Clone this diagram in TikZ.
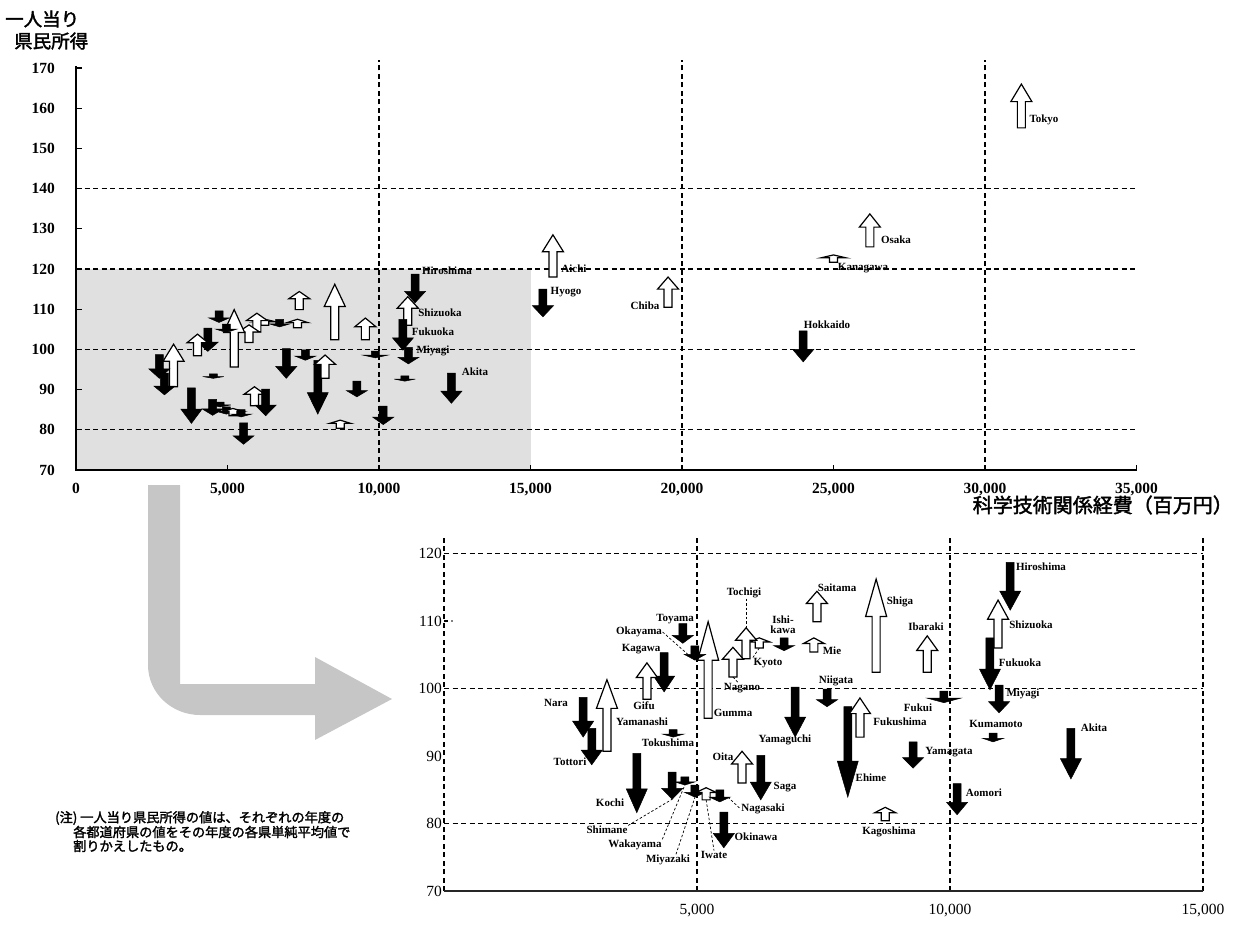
\documentclass[tikz,border=0pt]{standalone}
\usepackage{fontspec}
\setmainfont{Liberation Serif}
\newfontfamily\jpfont[AutoFakeBold=2]{Noto Sans CJK JP}
\usetikzlibrary{calc}
\newcommand\pfx{b}
\newcommand\sw{4pt}
\newcommand\fhw{17pt}
\newcommand{\parr}[6][10.5pt]{%
  \coordinate (\pfx#2-s) at (#4,#5);
  \coordinate (\pfx#2-e) at (#4,#6);
  \coordinate (\pfx#2-h) at (#4,{#5+0.6*(#6-#5)});
  \path[#3] ($(\pfx#2-s)+(-\sw,0pt)$) -- ($(\pfx#2-h)+(-\sw,0pt)$) -- ($(\pfx#2-h)+(-#1,0pt)$) -- (\pfx#2-e) -- ($(\pfx#2-h)+(#1,0pt)$) -- ($(\pfx#2-h)+(\sw,0pt)$) -- ($(\pfx#2-s)+(\sw,0pt)$) -- cycle;
}
\newcommand\allarrows{%
\parr{Hiroshima}{ba}{11.19}{118.7}{111.6}
\parr{Shizuoka}{wa}{10.95}{106.0}{113.1}
\parr{Fukuoka}{ba}{10.79}{107.5}{99.8}
\parr{Miyagi}{ba}{10.97}{100.5}{96.4}
\parr{Kumamoto}{ba}{10.85}{93.4}{92.1}
\parr{Akita}{ba}{12.39}{94.1}{86.6}
\parr{Aomori}{ba}{10.14}{85.9}{81.3}
\parr{Kagoshima}{wa}{8.72}{80.4}{82.4}
\parr{Yamagata}{ba}{9.27}{92.1}{88.2}
\parr{Ehime}{ba}{7.98}{97.3}{83.9}
\parr{Fukushima}{wa}{8.22}{92.8}{98.6}
\parr[\fhw]{Fukui}{ba}{9.88}{99.6}{97.9}
\parr{Ibaraki}{wa}{9.55}{102.4}{107.8}
\parr{Shiga}{wa}{8.54}{102.4}{116.2}
\parr{Saitama}{wa}{7.37}{109.9}{114.4}
\parr{Mie}{wa}{7.31}{105.4}{107.5}
\parr{Ishikawa}{ba}{6.72}{107.5}{105.6}
\parr{Kyoto}{wa}{6.23}{106.0}{107.5}
\parr{Tochigi}{wa}{5.97}{104.4}{109.0}
\parr{Nagano}{wa}{5.71}{101.7}{106.1}
\parr{Gumma}{wa}{5.22}{95.6}{109.9}
\parr{Okayama}{ba}{4.96}{106.3}{104.2}
\parr{Toyama}{ba}{4.72}{109.6}{106.7}
\parr{Kagawa}{ba}{4.35}{105.3}{99.5}
\parr{Gifu}{wa}{4.01}{98.4}{103.8}
\parr{Yamanashi}{wa}{3.22}{90.7}{101.3}
\parr{Nara}{ba}{2.75}{98.7}{92.8}
\parr{Tottori}{ba}{2.92}{94.1}{88.7}
\parr{Tokushima}{ba}{4.53}{93.9}{92.8}
\parr{Kochi}{ba}{3.81}{90.4}{81.6}
\parr{Shimane}{ba}{4.51}{87.6}{83.6}
\parr{Wakayama}{ba}{4.76}{86.9}{85.7}
\parr{Miyazaki}{ba}{4.96}{85.7}{83.9}
\parr{Iwate}{wa}{5.18}{83.5}{85.3}
\parr{Nagasaki}{ba}{5.45}{85.0}{83.2}
\parr{Okinawa}{ba}{5.53}{81.7}{76.4}
\parr{Oita}{wa}{5.89}{86.0}{90.7}
\parr{Saga}{ba}{6.26}{90.1}{83.5}
\parr{Yamaguchi}{ba}{6.94}{100.2}{92.8}
\parr{Niigata}{ba}{7.57}{99.9}{97.3}
}
\begin{document}
\begin{tikzpicture}[x=1pt,y=-1pt,
  gridline/.style={line width=1.1pt, dash pattern=on 5pt off 3.5pt},
  axisline/.style={line width=1.4pt},
  wa/.style={draw=black, line width=1.2pt, fill=white, line join=miter},
  ba/.style={draw=black, line width=0.5pt, fill=black, line join=miter},
  lab/.style={font=\fontsize{11}{11}\selectfont\bfseries, inner sep=0.5pt},
  leader/.style={line width=0.7pt, dash pattern=on 2.5pt off 2pt},
  topnum/.style={font=\fontsize{15.5}{15.5}\selectfont\bfseries, inner sep=0pt},
  botnum/.style={font=\fontsize{15.5}{15.5}\selectfont, inner sep=0pt},
  jplab/.style={font=\jpfont\bfseries\fontsize{18.5}{18.5}\selectfont, inner sep=0pt},
  jpnote/.style={font=\jpfont\bfseries\fontsize{13.2}{13.2}\selectfont, inner sep=0pt, anchor=west},
  shade/.style={fill=gray!24},
  bigarrow/.style={fill=gray!45}]
\useasboundingbox (0,0) rectangle (1239,928);

% ---------------- top chart ----------------
\begin{scope}[shift={(76pt,-751.4pt)}, x={(30.3pt,0pt)}, y={(0pt,4.02pt)}]
  \fill[shade] (0,70) rectangle (15,120);
  \foreach \v in {80,100,120,140} \draw[gridline] (0,\v) -- (35,\v);
  \foreach \u in {10,20,30} \draw[gridline] (\u,70) -- (\u,172);
  \draw[axisline] (0,170.5) -- (0,70) -- (35,70);
  \foreach \v in {80,90,...,170} \draw[line width=1.2pt] (0,\v) -- ++(6pt,0pt);
  \foreach \u in {5,10,...,35} \draw[line width=1.2pt] (\u,70) -- ++(0pt,5pt);
  \foreach \v in {70,80,...,170} \node[topnum, anchor=east] (ty\v) at ($(0,\v)+(-21pt,0pt)$) {\v};
  \foreach \u/\t in {0/0,5/{5,000},10/{10,000},15/{15,000},20/{20,000},25/{25,000},30/{30,000},35/{35,000}}
    \node[topnum, anchor=north] (tx\u) at ($(\u,70)+(0pt,-13pt)$) {\t};
  \renewcommand\pfx{t}
  \renewcommand\fhw{12.5pt}
  \allarrows
  \parr{Tokyo}{wa}{31.2}{155.1}{166}
  \parr{Osaka}{wa}{26.2}{125.5}{133.7}
  \parr[12.5pt]{Kanagawa}{wa}{25.0}{121.7}{123.5}
  \parr{Aichi}{wa}{15.74}{118}{128.5}
  \parr{Hyogo}{ba}{15.41}{115}{108.1}
  \parr{Chiba}{wa}{19.54}{110.5}{118}
  \parr{Hokkaido}{ba}{24.0}{104.6}{96.9}
\end{scope}

% top labels
\node[lab] (mHiroshima) at (447,271) {Hiroshima};
\node[lab] (mShizuoka) at (440,313) {Shizuoka};
\node[lab] (mFukuoka) at (433,332) {Fukuoka};
\node[lab] (mMiyagi) at (433,351) {Miyagi};
\node[lab] (mAkita) at (475,372) {Akita};
\node[lab] (mAichi) at (574,269) {Aichi};
\node[lab] (mHyogo) at (566,292) {Hyogo};
\node[lab] (mChiba) at (645,306) {Chiba};
\node[lab] (mKanagawa) at (863,268) {Kanagawa};
\node[lab] (mOsaka) at (896,240) {Osaka};
\node[lab] (mTokyo) at (1044,120) {Tokyo};
\node[lab] (mHokkaido) at (827,325) {Hokkaido};

% axis titles
\node[jplab, anchor=west] (ylab1) at (5,19) {一人当り};
\node[jplab, anchor=west] (ylab2) at (14,41) {県民所得};
\node[jplab, font=\jpfont\bfseries\fontsize{20}{20}\selectfont, anchor=east] (xlab) at (1233,505) {科学技術関係経費（百万円）};

% big gray arrow
\fill[bigarrow] (148,485) -- (180,485) -- (180,684) -- (315,684) -- (315,657)
  -- (392,699) -- (315,740) -- (315,715) -- (200,715)
  to[out=180,in=270] (148,665) -- cycle;

% ---------------- bottom chart ----------------
\begin{scope}[shift={(444pt,-1363.5pt)}, x={(50.6pt,0pt)}, y={(0pt,6.75pt)}]
  \foreach \v in {80,100,120} \draw[gridline] (0,\v) -- (15,\v);
  \foreach \u in {0,5,10,15} \draw[gridline] (\u,70) -- (\u,122.3);
  \draw[axisline, draw=black!85] (0,70) -- (15,70);
  \draw[line width=1.1pt] (0,110) -- ++(4pt,0pt);
  \fill ($(0,110)+(8pt,0pt)$) circle (0.8pt);
  \foreach \v in {70,80,...,120} \node[botnum, anchor=east] (by\v) at ($(0,\v)+(-2pt,0pt)$) {\v};
  \foreach \u/\t in {5/{5,000},10/{10,000},15/{15,000}}
    \node[botnum, anchor=north] (bx\u) at ($(\u,70)+(0pt,-13pt)$) {\t};
  \renewcommand\pfx{b}
  \renewcommand\fhw{17pt}
  \allarrows
\end{scope}

% bottom labels
\node[lab] (lHiroshima) at (1041,567) {Hiroshima};
\node[lab] (lShizuoka) at (1031,625) {Shizuoka};
\node[lab] (lFukuoka) at (1020,663) {Fukuoka};
\node[lab] (lMiyagi) at (1023,694) {Miyagi};
\node[lab] (lKumamoto) at (996,724) {Kumamoto};
\node[lab] (lAkita) at (1094,728) {Akita};
\node[lab] (lAomori) at (984,793) {Aomori};
\node[lab] (lKagoshima) at (889,832) {Kagoshima};
\node[lab] (lYamagata) at (949,752) {Yamagata};
\node[lab] (lEhime) at (871,778) {Ehime};
\node[lab] (lFukushima) at (900,722) {Fukushima};
\node[lab] (lFukui) at (918,708) {Fukui};
\node[lab] (lIbaraki) at (926,627) {Ibaraki};
\node[lab] (lShiga) at (900,602) {Shiga};
\node[lab] (lNiigata) at (836,681) {Niigata};
\node[lab] (lSaitama) at (837,588) {Saitama};
\node[lab] (lMie) at (832,651) {Mie};
\node[lab, align=center, font=\fontsize{11}{10}\selectfont\bfseries] (lIshikawa) at (783,625) {Ishi-\\kawa};
\node[lab] (lKyoto) at (768,663) {Kyoto};
\node[lab] (lTochigi) at (744,593) {Tochigi};
\node[lab] (lNagano) at (742,688) {Nagano};
\node[lab] (lGumma) at (733,713) {Gumma};
\node[lab] (lOkayama) at (639,632) {Okayama};
\node[lab] (lToyama) at (675,619) {Toyama};
\node[lab] (lKagawa) at (641,649) {Kagawa};
\node[lab] (lGifu) at (644,706) {Gifu};
\node[lab] (lYamanashi) at (642,722) {Yamanashi};
\node[lab] (lNara) at (556,703) {Nara};
\node[lab] (lTottori) at (570,762) {Tottori};
\node[lab] (lTokushima) at (668,743) {Tokushima};
\node[lab] (lKochi) at (610,803) {Kochi};
\node[lab] (lOita) at (723,757) {Oita};
\node[lab] (lSaga) at (785,787) {Saga};
\node[lab] (lYamaguchi) at (785,740) {Yamaguchi};
\node[lab] (lNagasaki) at (763,809) {Nagasaki};
\node[lab] (lOkinawa) at (756,837) {Okinawa};
\node[lab] (lShimane) at (607,830) {Shimane};
\node[lab] (lWakayama) at (635,845) {Wakayama};
\node[lab] (lMiyazaki) at (668,860) {Miyazaki};
\node[lab] (lIwate) at (714,855) {Iwate};

% leaders
\draw[leader] (lOkayama.east) -- ($(bOkayama-h)+(-7pt,0pt)$);
\draw[leader] (lTochigi.south -| bTochigi-e) -- (bTochigi-e);
\draw[leader] (bKyoto-s) -- (lKyoto.north west);
\draw[leader] (bNagano-s) -- ($(lNagano.north)+(-4pt,0pt)$);
\draw[leader] (lShimane.north east) -- (bShimane-e);
\draw[leader] (lWakayama.north east) -- (bWakayama-e);
\draw[leader] ($(lMiyazaki.north)+(8pt,0pt)$) -- (bMiyazaki-e);
\draw[leader] (bIwate-s) .. controls (710,825) .. (lIwate.north);
\draw[leader] ($(bNagasaki-h)+(8pt,0pt)$) -- (lNagasaki.west);

% note
\node[jpnote] (note1) at (55,818) {(注) 一人当り県民所得の値は、それぞれの年度の};
\node[jpnote] (note2) at (73,832) {各都道府県の値をその年度の各県単純平均値で};
\node[jpnote] (note3) at (73,846) {割りかえしたもの。};
\end{tikzpicture}
\end{document}
